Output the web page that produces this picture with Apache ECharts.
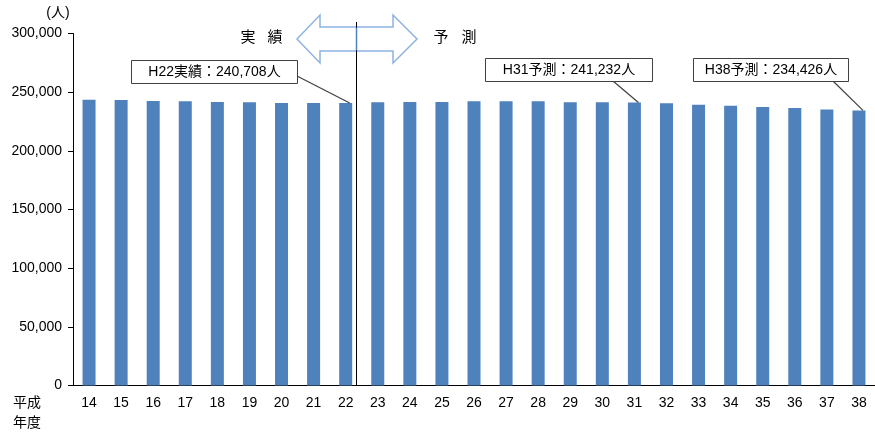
<!DOCTYPE html>
<html>
<head>
<meta charset="utf-8">
<script src="https://cdn.jsdelivr.net/npm/echarts@6/dist/echarts.min.js"></script>
<style>
  html, body { margin: 0; padding: 0; background: #fff; }
  #chart { width: 875px; height: 436px; }
</style>
</head>
<body>
<div id="chart"></div>
<script>
// 平成14〜38年度の人口（H14〜H22 実績、H23以降 予測）
const years = ['14','15','16','17','18','19','20','21','22','23','24','25','26',
               '27','28','29','30','31','32','33','34','35','36','37','38'];
const population = [243500, 243400, 242400, 242300, 241600, 241500, 240800, 240750, 240708,
                    241500, 241550, 241600, 242300, 242350, 242200, 241500, 241400, 241232,
                    240500, 239200, 238400, 237300, 236400, 235300, 234426];
const yTicks = [0, 50000, 100000, 150000, 200000, 250000, 300000];

// 吹き出し注記: 対象年度、文言、枠、引出線の始点
const callouts = [
  { year: '22', text: 'H22実績：240,708人', box: [131, 60, 166, 23], from: [297, 76] },
  { year: '31', text: 'H31予測：241,232人', box: [485, 58, 167, 23], from: [613, 81] },
  { year: '38', text: 'H38予測：234,426人', box: [693, 58, 155, 23], from: [833, 81] }
];

const FONT = '"Liberation Sans", "Noto Sans CJK JP", sans-serif';
const chart = echarts.init(document.getElementById('chart'));

chart.setOption({
  animation: false,
  grid: { left: 73, right: -4, top: 33.5, bottom: 50.5, containLabel: false },
  xAxis: {
    type: 'category',
    data: years,
    axisLine: { lineStyle: { color: '#000', width: 1 } },
    axisTick: { inside: true, length: 5, lineStyle: { color: '#000' } },
    axisLabel: { color: '#000', fontSize: 14, fontFamily: FONT, margin: 11 }
  },
  yAxis: {
    type: 'value',
    min: yTicks[0],
    max: yTicks[yTicks.length - 1],
    interval: yTicks[1] - yTicks[0],
    splitLine: { show: false },
    axisLine: { show: true, lineStyle: { color: '#000', width: 1 } },
    axisTick: { show: true, length: 5, lineStyle: { color: '#000' } },
    axisLabel: {
      color: '#000', fontSize: 14, fontFamily: FONT, margin: 11,
      formatter: v => v.toLocaleString('en-US')
    }
  },
  series: [{
    type: 'bar',
    data: population,
    barWidth: 13,
    itemStyle: { color: '#4f81bd' },
    silent: true
  }]
});

// 注記・矢印などの重ね描き（座標はグラフの尺度から換算）
const g = [];
const txt = (x, y, s, size, align) => ({
  type: 'text', x, y, z: 30,
  style: { text: s, fill: '#000', font: size + 'px ' + FONT, align: align || 'center', verticalAlign: 'middle' }
});

g.push(txt(58, 13, '(人)', 14));
g.push(txt(13, 403, '平成', 14, 'left'));
g.push(txt(13, 423, '年度', 14, 'left'));

// 実績/予測の区切り線
const p22 = chart.convertToPixel({ seriesIndex: 0 }, ['22', 0]);
const divX = Math.round(p22[0] + 10) + 0.5;
const axisY = p22[1];

// 両方向矢印
g.push({
  type: 'polygon', z: 20,
  shape: { points: [[297, 39], [320, 15], [320, 27], [393, 27], [393, 15], [417, 39],
                    [393, 63], [393, 51], [320, 51], [320, 63]] },
  style: { fill: '#fff', stroke: '#8db3e2', lineWidth: 1.5 }
});
g.push({ type: 'line', z: 21, shape: { x1: divX, y1: 22, x2: divX, y2: axisY },
         style: { stroke: '#000', lineWidth: 1 } });
g.push({ type: 'line', z: 22, shape: { x1: divX, y1: 27.5, x2: divX, y2: 50.5 },
         style: { stroke: '#4f81bd', lineWidth: 1.5 } });

g.push(txt(248, 38, '実', 15));
g.push(txt(275, 38, '績', 15));
g.push(txt(441, 38, '予', 15));
g.push(txt(469, 38, '測', 15));

callouts.forEach(c => {
  const idx = years.indexOf(c.year);
  const top = chart.convertToPixel({ seriesIndex: 0 }, [c.year, population[idx]]);
  const [bx, by, bw, bh] = c.box;
  g.push({
    type: 'line', z: 25,
    shape: { x1: c.from[0], y1: c.from[1], x2: top[0] + 4, y2: top[1] },
    style: { stroke: '#404040', lineWidth: 1.2 }
  });
  g.push({
    type: 'rect', z: 26,
    shape: { x: bx + 0.5, y: by + 0.5, width: bw, height: bh },
    style: { fill: '#fff', stroke: '#404040', lineWidth: 1 }
  });
  g.push(txt(bx + bw / 2 + 0.5, by + bh / 2 + 1, c.text, 14));
});

chart.setOption({ graphic: { elements: g } });
</script>
</body>
</html>
